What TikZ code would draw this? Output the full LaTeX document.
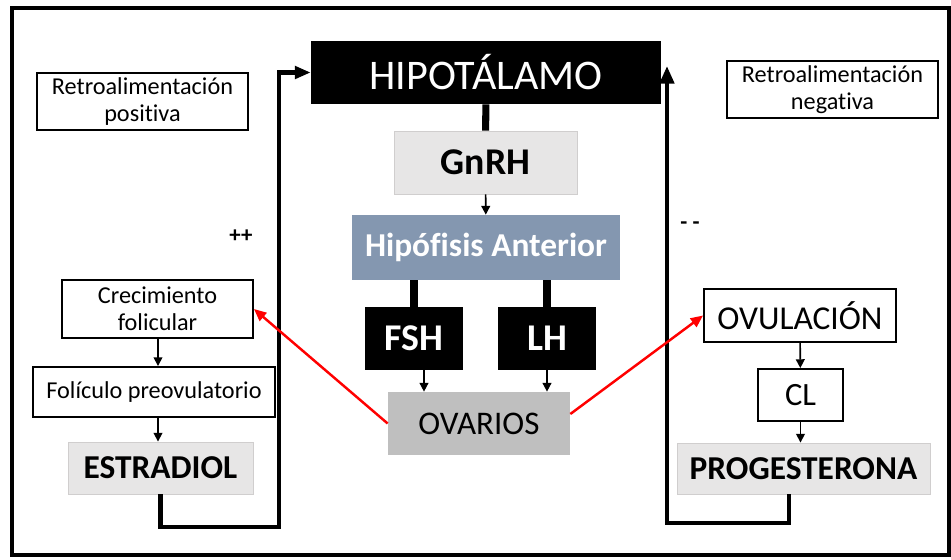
\documentclass[tikz,border=0pt]{standalone}
\usepackage{fontspec}
\setmainfont{Carlito}[Ligatures=NoCommon]
\usetikzlibrary{arrows.meta}
\definecolor{hormgrey}{HTML}{E7E6E6}
\definecolor{hormedge}{HTML}{D0CECE}
\definecolor{hipofblue}{HTML}{8497B0}
\definecolor{ovagrey}{HTML}{BFBFBF}
\begin{document}
\begin{tikzpicture}[x=0.02cm,y=-0.02cm,
  plainbox/.style={draw,line width=1.1pt,inner sep=0pt,align=center,font=\fontsize{13.8}{15.5}\selectfont},
  darkbox/.style={fill=black,text=white,inner sep=0pt,font=\bfseries\fontsize{21.5}{24}\selectfont},
  greybox/.style={fill=hormgrey,draw=hormedge,line width=0.5pt,inner sep=0pt,font=\bfseries\fontsize{19}{22}\selectfont},
  thinarrow/.style={line width=0.9pt,-{Triangle[length=5pt,width=5pt]}},
  stem/.style={line width=4pt},
  loopline/.style={line width=2.4pt},
  redarrow/.style={red,line width=1.4pt,-{Triangle[length=7pt,width=6pt]}}]
\useasboundingbox (0,0) rectangle (951,559);
\draw[line width=2.6pt] (12,8) rectangle (949,555);
% central axis
\node[darkbox,minimum width=7cm,minimum height=1.26cm,font=\fontsize{24}{28}\selectfont] (hipo) at (486,72.5) {HIPOTÁLAMO};
\node[greybox,font=\bfseries\fontsize{21.5}{24}\selectfont,minimum width=3.66cm,minimum height=1.26cm] (gnrh) at (485.5,162.5) {GnRH};
\node[fill=hipofblue,text=white,inner sep=0pt,font=\bfseries\fontsize{19}{22}\selectfont,minimum width=5.36cm,minimum height=1.3cm] (hipof) at (486,247.5) {Hipófisis Anterior};
\node[darkbox,minimum width=1.96cm,minimum height=1.26cm] (fsh) at (414,338.5) {FSH};
\node[darkbox,minimum width=1.96cm,minimum height=1.26cm] (lh) at (547,338.5) {LH};
\node[fill=ovagrey,inner sep=0pt,font=\fontsize{18.8}{22}\selectfont,minimum width=3.64cm,minimum height=1.26cm] (ova) at (479,423.5) {OVARIOS};
\draw[stem] (hipo) -- (gnrh);
\draw[thinarrow] (gnrh) -- (hipof);
\draw[stem] (hipof.south -| fsh) -- (fsh);
\draw[stem] (hipof.south -| lh) -- (lh);
\draw[thinarrow] ([xshift=0.2cm]fsh.south) -- ([xshift=0.2cm]fsh.south |- ova.north);
\draw[thinarrow] (lh) -- (lh |- ova.north);
% positive side
\node[plainbox,minimum width=4.22cm,minimum height=1.14cm] (retpos) at (142.5,101.5) {Retroalimentación\\positiva};
\node[font=\bfseries\fontsize{13}{15}\selectfont] (plus) at (241,236) {++};
\node[plainbox,minimum width=3.82cm,minimum height=1.16cm] (crec) at (157.5,309) {Crecimiento\\folicular};
\node[plainbox,minimum width=4.84cm,minimum height=1cm] (foli) at (154,392) {Folículo preovulatorio};
\node[greybox,minimum width=3.7cm,minimum height=1.04cm] (estr) at (160.5,468) {ESTRADIOL};
\draw[thinarrow] (crec.south -| 158,0) -- (foli.north -| 158,0);
\draw[thinarrow] (foli.south -| 158,0) -- (estr.north -| 158,0);
\coordinate (lcorner) at (279,527);
\draw[loopline,-{Triangle[length=9pt,width=7pt]}] (estr.south) |- (lcorner) |- (hipo.west);
% negative side
\node[plainbox,minimum width=4.22cm,minimum height=1.14cm] (retneg) at (832.5,89.5) {Retroalimentación\\negativa};
\node[font=\bfseries\fontsize{13}{15}\selectfont] (minus) at (690,226) {- -};
\node[plainbox,font=\fontsize{19}{22}\selectfont,minimum width=3.84cm,minimum height=1.06cm] (ovul) at (800,315.5) {OVULACIÓN};
\node[plainbox,font=\fontsize{18.5}{22}\selectfont,minimum width=1.7cm,minimum height=1.04cm] (cl) at (800.5,395) {CL};
\node[greybox,minimum width=5.06cm,minimum height=1.02cm] (prog) at (803.5,468.5) {PROGESTERONA};
\draw[thinarrow] (ovul) -- (cl);
\draw[thinarrow] (cl) -- (cl |- prog.north);
\coordinate (rcorner) at (667,523);
\coordinate (rtop) at (667,66);
\draw[loopline,-{Triangle[length=10pt,width=8pt]}] ([xshift=-0.29cm]prog.south) |- (rcorner) -- (rtop);
% ovarian outputs
\draw[redarrow] (ova.west) -- (crec.east);
\draw[redarrow] ([yshift=0.19cm]ova.east) -- (ovul.west);
\end{tikzpicture}
\end{document}
